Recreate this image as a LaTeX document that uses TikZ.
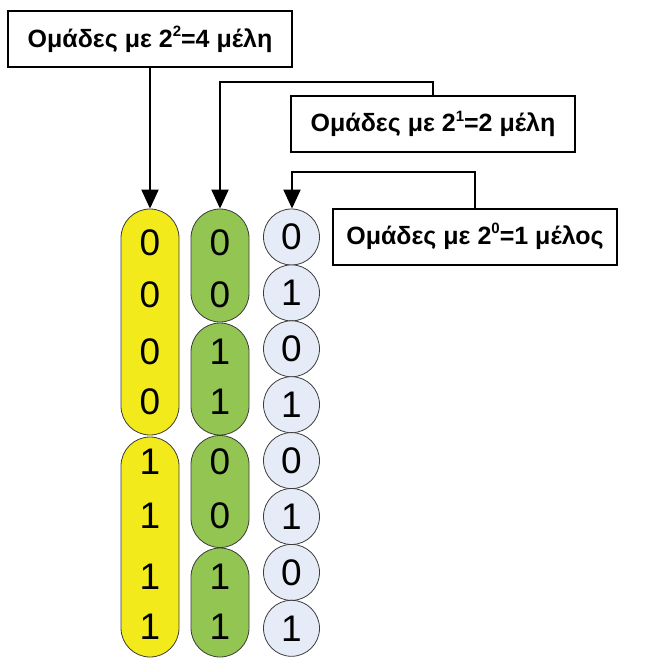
\documentclass[tikz,border=0pt]{standalone}
\usepackage{fontspec}
\setmainfont{Liberation Sans}
\usetikzlibrary{arrows.meta}
\definecolor{yel}{RGB}{242,234,26}
\definecolor{grn}{RGB}{146,197,82}
\definecolor{cir}{RGB}{230,236,247}
\definecolor{edge}{RGB}{60,60,60}
\newcommand{\supx}[1]{\raisebox{0.42em}{\fontsize{15}{16}\selectfont #1}}
\begin{document}
\begin{tikzpicture}[x=1pt,y=-1pt,
  labelbox/.style={draw=black,line width=2pt,fill=white,minimum width=284pt,minimum height=56pt,inner sep=0pt,font=\fontsize{25}{28}\selectfont\bfseries},
  conn/.style={line width=2pt,-{Triangle[length=19pt,width=17pt]}},
  yelgrp/.style={draw=edge,line width=0.8pt,fill=yel,rounded corners=29pt,minimum width=58pt,inner sep=0pt},
  grngrp/.style={draw=edge,line width=0.8pt,fill=grn,rounded corners=29pt,minimum width=58pt,minimum height=112pt,inner sep=0pt},
  bitcirc/.style={draw=edge,line width=0.8pt,fill=cir,circle,minimum size=56pt,inner sep=0pt},
  digit/.style={font=\fontsize{37}{40}\selectfont,inner sep=0pt}]
\useasboundingbox (0,0) rectangle (645,660);
\fill[white] (0,0) rectangle (645,660);
% label boxes
\node[labelbox] (b1) at (150,39.5) {Ομάδες με 2\supx{2}=4 μέλη};
\node[labelbox] (b2) at (433,124) {Ομάδες με 2\supx{1}=2 μέλη};
\node[labelbox] (b3) at (475,236.5) {Ομάδες με 2\supx{0}=1 μέλος};
% yellow groups
\node[yelgrp,minimum height=226pt] (y1) at (150,322) {};
\node[yelgrp,minimum height=220pt] (y2) at (150,547) {};
% green groups
\node[grngrp,minimum height=113pt] (g1) at (220,265.5) {};
\node[grngrp] (g2) at (220,379) {};
\node[grngrp] (g3) at (220,491.5) {};
\node[grngrp,minimum height=109pt] (g4) at (220,602.5) {};
% circles
\foreach \i [evaluate=\i as \yy using 237+55.9*(\i-1)] in {1,...,8}{
  \node[bitcirc] (c\i) at (291.5,\yy) {};
}
% digits
\foreach \yy/\a/\b [count=\k] in {243/0/0,295/0/0,352/0/1,402/0/1,462/1/0,516/1/0,577/1/1,627/1/1}{
  \node[digit] (dy\k) at (150,\yy) {\a};
  \node[digit] (dg\k) at (220,\yy) {\b};
}
\foreach \i/\v in {1/0,2/1,3/0,4/1,5/0,6/1,7/0,8/1}{
  \node[digit] (dc\i) at (c\i) {\v};
}
% connectors
\coordinate (k2) at (220,82);
\coordinate (k3) at (292,172);
\draw[conn] (b1.south) -- (y1.north);
\draw[conn] (b2.north) |- (k2) -- (g1.north);
\draw[conn] (b3.north) |- (k3) -- (c1.north -| k3);
\end{tikzpicture}
\end{document}
